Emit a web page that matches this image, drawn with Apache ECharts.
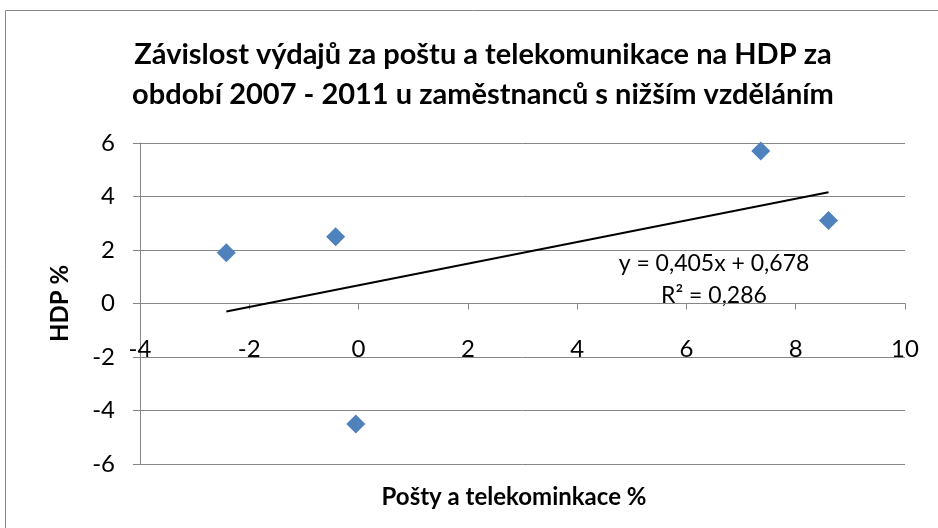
<!DOCTYPE html>
<html><head><meta charset="utf-8">
<script src="https://cdn.jsdelivr.net/npm/echarts@6/dist/echarts.min.js"></script>
<style>html,body{margin:0;padding:0;background:#fff}#c{width:938px;height:528px}</style>
</head><body><div id="c"></div>
<script>
const titleText = 'Závislost výdajů za poštu a telekomunikace na HDP za\nobdobí 2007 - 2011 u zaměstnanců s nižším vzděláním';
const xName = 'Pošty a telekominkace %';
const yName = 'HDP %';
const xValues = [-2.42, -0.42, -0.05, 7.36, 8.6];
const yValues = [1.9, 2.5, -4.5, 5.7, 3.1];
const trendSlope = 0.405;
const trendIntercept = 0.678;
const trendR2 = 0.286;
const xTicks = [-4, 10, 2];
const yTicks = [-6, 6, 2];

const fmt = v => v.toFixed(3).replace('.', ',');
const pts = xValues.map((x, i) => [x, yValues[i]]);
const xMin = Math.min(...xValues), xMax = Math.max(...xValues);
const trend = [[xMin, trendSlope * xMin + trendIntercept], [xMax, trendSlope * xMax + trendIntercept]];
const FONT = 'Lato, Carlito, sans-serif';

const chart = echarts.init(document.getElementById('c'), null, {renderer: 'canvas'});
chart.setOption({
  animation: false,
  backgroundColor: '#fff',
  title: {
    text: titleText, left: 478, top: 30, textAlign: 'center',
    textStyle: {fontFamily: FONT, fontWeight: 'bold', fontSize: 29, lineHeight: 40, color: '#000'}
  },
  grid: {left: 140, right: 33, top: 143, bottom: 64, outerBoundsMode: 'none', containLabel: false},
  xAxis: {
    type: 'value', min: xTicks[0], max: xTicks[1], interval: xTicks[2],
    axisLine: {show: true, onZero: false, lineStyle: {color: '#868686', width: 1}},
    axisTick: {show: true, length: 6, inside: false, lineStyle: {color: '#868686'}},
    axisLabel: {margin: 34, fontFamily: FONT, fontSize: 24, color: '#000'},
    splitLine: {show: false}
  },
  yAxis: {
    type: 'value', min: yTicks[0], max: yTicks[1], interval: yTicks[2],
    axisLine: {show: true, onZero: false, lineStyle: {color: '#868686', width: 1}},
    axisTick: {show: true, length: 7, lineStyle: {color: '#868686'}},
    axisLabel: {margin: 25, fontFamily: FONT, fontSize: 24, color: '#000'},
    splitLine: {show: true, lineStyle: {color: '#868686', width: 1}},
    name: yName, nameLocation: 'middle', nameGap: 68, nameRotate: 90,
    nameTextStyle: {fontFamily: FONT, fontWeight: 'bold', fontSize: 24, color: '#000'}
  },
  graphic: [
    {type: 'rect', shape: {x: 5.5, y: 10.5, width: 940, height: 530}, style: {fill: null, stroke: '#868686', lineWidth: 1}, silent: true},
    {type: 'text', style: {text: xName, x: 514, y: 497, textAlign: 'center', textVerticalAlign: 'middle', font: 'bold 24px ' + FONT, fill: '#000'}},
    {type: 'text', style: {text: 'y = ' + fmt(trendSlope) + 'x + ' + fmt(trendIntercept), x: 714, y: 264, textAlign: 'center', textVerticalAlign: 'middle', font: '23px ' + FONT, fill: '#000'}},
    {type: 'text', style: {text: 'R² = ' + fmt(trendR2), x: 714, y: 296, textAlign: 'center', textVerticalAlign: 'middle', font: '23px ' + FONT, fill: '#000'}}
  ],
  series: [
    {type: 'scatter', data: pts, symbol: 'diamond', symbolSize: 19, itemStyle: {color: '#4F81BD', opacity: 1}, z: 3},
    {type: 'line', data: trend, symbol: 'none', lineStyle: {color: '#000', width: 2}, z: 2, silent: true}
  ]
});
// Place the x axis (line, ticks, labels) at y = 0 using the library's own scale.
const zeroY = chart.convertToPixel({gridIndex: 0}, [0, 0])[1];
const bottomY = chart.convertToPixel({gridIndex: 0}, [0, yTicks[0]])[1];
chart.setOption({xAxis: {offset: zeroY - bottomY}});
</script></body></html>
